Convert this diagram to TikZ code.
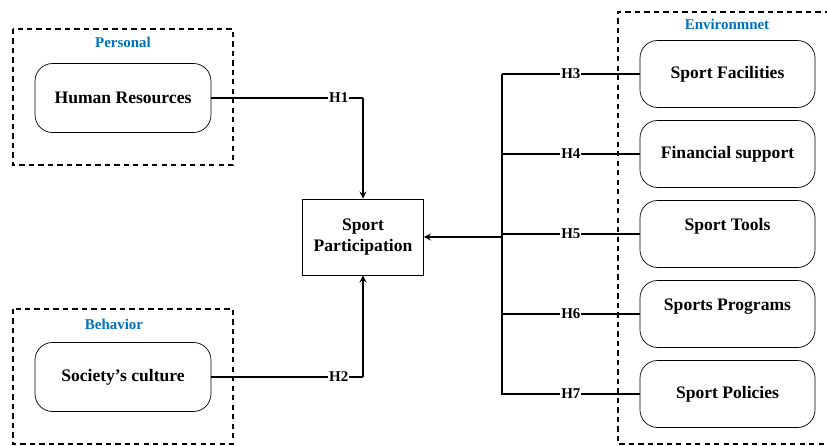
\documentclass[tikz,border=0pt]{standalone}
\usepackage{fontspec}
\setmainfont{Liberation Serif}
\usepackage{xcolor, tikz}
\usetikzlibrary{calc}
\definecolor{wordblue}{RGB}{0,112,192}
\tikzstyle{factor} = [rectangle, rounded corners=10pt, minimum width=3.52cm, minimum height=1.38cm, text centered, align=center, draw=black, thin, font=\fontsize{10}{11.5}\selectfont\bfseries]
\tikzstyle{target} = [rectangle, minimum width=2.42cm, minimum height=1.52cm, text centered, align=center, draw=black, thin, font=\fontsize{10}{11.5}\selectfont\bfseries]
\tikzstyle{group} = [draw=black, line width=1.2pt, dash pattern=on 3pt off 2.4pt]
\tikzstyle{grouplab} = [text=wordblue, font=\fontsize{8.5}{10}\selectfont\bfseries]
\tikzstyle{hyp} = [fill=white, inner sep=0.5pt, font=\fontsize{8.5}{10}\selectfont\bfseries]
\tikzstyle{arrow} = [thick,->,>=stealth]
\begin{document}
\begin{tikzpicture}[node distance=1.6cm, thick]
      \useasboundingbox (0,0) rectangle (16.54,-8.92);
      % groups
      \draw[group] (0.26,-0.58) rectangle (4.66,-3.30);
      \draw[group] (0.26,-6.18) rectangle (4.66,-8.88);
      \draw[group] (16.6,-0.24) -- (12.36,-0.24) -- (12.36,-8.88) -- (16.6,-8.88);
      \node (personal)[grouplab] at (2.46,-0.84) {Personal};
      \node (behavior)[grouplab] at (2.28,-6.48) {Behavior};
      \node (environment)[grouplab] at (14.54,-0.48) {Environmnet};
      % nodes
      \node (hr)[factor] at (2.46,-1.96) {Human Resources};
      \node (culture)[factor] at (2.46,-7.54) {Society’s culture};
      \node (sp)[target] at (7.26,-4.74) {Sport\\Participation};
      \node (fac)[factor, minimum width=3.5cm, minimum height=1.34cm] at (14.55,-1.48) {Sport Facilities};
      \node (fin)[factor, minimum width=3.5cm, minimum height=1.34cm, below of=fac] {Financial support};
      \node (tools)[factor, minimum width=3.5cm, minimum height=1.34cm, below of=fin] {Sport Tools\\[-0.1em]};
      \node (prog)[factor, minimum width=3.5cm, minimum height=1.34cm, below of=tools] {Sports Programs\\[-0.1em]};
      \node (pol)[factor, minimum width=3.5cm, minimum height=1.34cm, below of=prog] {Sport Policies};
      \coordinate (bustop) at (10.04,-1.48);
      \coordinate (busbot) at (10.04,-7.9);
      % connectors
      \draw (hr.east) -- node[hyp, pos=0.84]{H1} (hr.east -| sp.north);
      \draw [arrow](hr.east -| sp.north) -- (sp.north);
      \draw (culture.east) -- node[hyp, pos=0.84]{H2} (culture.east -| sp.south);
      \draw [arrow](culture.east -| sp.south) -- (sp.south);
      \draw (bustop) -- (busbot);
      \draw (fac.west) -- node[hyp]{H3} (fac.west -| bustop);
      \draw (fin.west) -- node[hyp]{H4} (fin.west -| bustop);
      \draw (tools.west) -- node[hyp]{H5} (tools.west -| bustop);
      \draw (prog.west) -- node[hyp]{H6} (prog.west -| bustop);
      \draw (pol.west) -- node[hyp]{H7} (pol.west -| bustop);
      \draw [arrow](sp.east -| bustop) -- (sp.east);
    \end{tikzpicture}
\end{document}
